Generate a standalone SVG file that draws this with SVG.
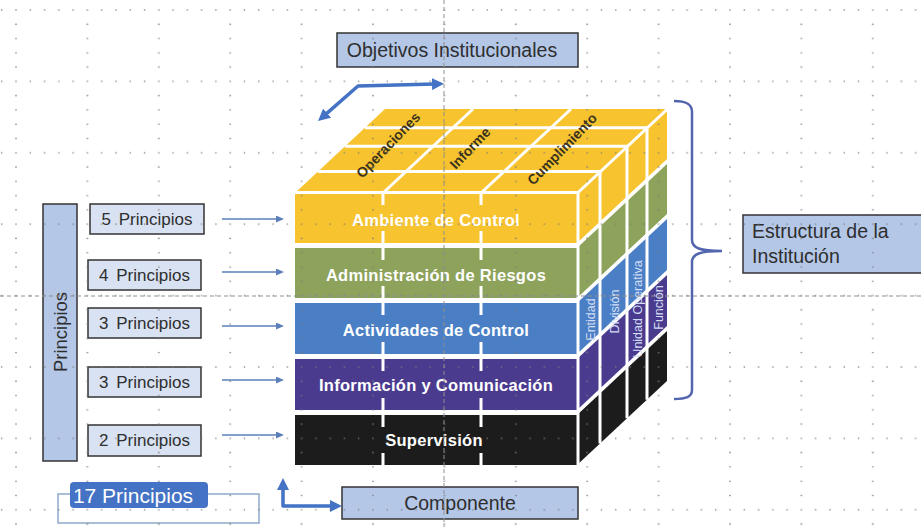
<svg xmlns="http://www.w3.org/2000/svg" width="921" height="527" viewBox="0 0 921 527">
<style>
.box{fill:#B4C7E7;stroke:#333;stroke-width:1.5}
.pbox{fill:#D9E2F3;stroke:#333;stroke-width:1.5}
.lbl{font-family:"Liberation Sans",Arial,sans-serif;fill:#2e2e2e}
.face{font-family:"Liberation Sans",Arial,sans-serif;font-weight:bold;fill:#ffffff;font-size:16.5px;letter-spacing:0.3px;text-anchor:middle}
.top{font-family:"Liberation Sans",Arial,sans-serif;font-weight:bold;fill:#3a3320;font-size:14px;text-anchor:middle}
.side{font-family:"Liberation Sans",Arial,sans-serif;fill:#d3def5;font-size:12.5px;text-anchor:middle}
.wl{stroke:#ffffff;stroke-width:3;fill:none}
.thin{stroke:#5B7FB8;stroke-width:1.6;fill:none;marker-end:url(#as)}
.thick{stroke:#4472C4;stroke-width:3.5;fill:none;stroke-linejoin:round;marker-start:url(#at);marker-end:url(#at)}
.y{fill:#F7C32E}.g{fill:#8DA25B}.b{fill:#4A7FC6}.p{fill:#4B3B8F}.k{fill:#1C1C1C}
.dash{stroke:#8f8f8f;stroke-width:1;stroke-dasharray:4 3}
</style>
<defs>
<marker id="as" markerUnits="userSpaceOnUse" markerWidth="8" markerHeight="7" refX="2" refY="3.5" orient="auto"><path d="M0,0 L8,3.5 L0,7 z" fill="#5B7FB8"/></marker>
<marker id="at" markerUnits="userSpaceOnUse" markerWidth="12" markerHeight="12" refX="3" refY="6" orient="auto-start-reverse"><path d="M0,0 L12,6 L0,12 z" fill="#4472C4"/></marker>
<pattern id="dots" x="14" y="8" width="71.4" height="71.4" patternUnits="userSpaceOnUse">
<g fill="#7a7a7a">
<circle cx="2" cy="2" r="0.8"/><circle cx="16.28" cy="2" r="0.8"/><circle cx="30.56" cy="2" r="0.8"/><circle cx="44.84" cy="2" r="0.8"/><circle cx="59.12" cy="2" r="0.8"/>
<circle cx="2" cy="16.28" r="0.8"/><circle cx="2" cy="30.56" r="0.8"/><circle cx="2" cy="44.84" r="0.8"/><circle cx="2" cy="59.12" r="0.8"/>
</g>
</pattern>
</defs>
<rect width="921" height="527" fill="#ffffff"/>

<g id="cube">
  <g id="cara-superior">
    <polygon class="y" points="295,193 577,193 667,109 385,109"/>
    <line class="wl" x1="318" y1="171.5" x2="600" y2="171.5"/>
    <line class="wl" x1="345" y1="146.3" x2="627" y2="146.3"/>
    <line class="wl" x1="365" y1="127.7" x2="647" y2="127.7"/>
    <line class="wl" x1="383" y1="193" x2="473" y2="109"/>
    <line class="wl" x1="481" y1="193" x2="571" y2="109"/>
    <text class="top" transform="translate(388,145) rotate(-46)" y="5">Operaciones</text>
    <text class="top" transform="translate(470,148) rotate(-46)" y="5">Informe</text>
    <text class="top" transform="translate(562,149) rotate(-46)" y="5">Cumplimiento</text>
  </g>
  <g id="ambiente">
    <rect class="y" x="295" y="193" width="282" height="50"/>
    <polygon class="y" points="577,193 667,109 667,159 577,243"/>
    <text class="face" x="436" y="226">Ambiente de Control</text>
  </g>
  <g id="riesgos">
    <rect class="g" x="295" y="248" width="282" height="50"/>
    <polygon class="g" points="577,248 667,164 667,214 577,298"/>
    <text class="face" x="436" y="281">Administración de Riesgos</text>
  </g>
  <g id="actividades">
    <rect class="b" x="295" y="303" width="282" height="51"/>
    <polygon class="b" points="577,303 667,219 667,270 577,354"/>
    <text class="face" x="436" y="336">Actividades de Control</text>
  </g>
  <g id="informacion">
    <rect class="p" x="295" y="359" width="282" height="51"/>
    <polygon class="p" points="577,359 667,275 667,326 577,410"/>
    <text class="face" x="436" y="391">Información y Comunicación</text>
  </g>
  <g id="supervision">
    <rect class="k" x="295" y="415" width="282" height="50"/>
    <polygon class="k" points="577,415 667,331 667,381 577,465"/>
    <text class="face" x="434" y="446">Supervisión</text>
  </g>
  <g id="lineas-cubo">
    <line class="wl" x1="295" y1="192.5" x2="578" y2="192.5"/>
    <line class="wl" x1="578" y1="192" x2="578" y2="465"/>
    <line class="wl" x1="577" y1="193.5" x2="668" y2="108.5"/>
    <line class="wl" x1="600" y1="171.5" x2="600" y2="443.5"/>
    <line class="wl" x1="627" y1="146.3" x2="627" y2="418.3"/>
    <line class="wl" x1="647" y1="127.7" x2="647" y2="399.7"/>
    <path class="wl" d="M383,193v12M481,193v12M383,231v12M481,231v12M383,248v12M481,248v12M383,286v12M481,286v12M383,303v12M481,303v12M383,342v12M481,342v12M383,359v12M481,359v12M383,398v12M481,398v12M383,415v12M481,415v12M383,453v12M481,453v12"/>
  </g>
  <g id="estructura-lados">
    <text class="side" transform="translate(590,319.5) rotate(-90)" y="4.5">Entidad</text>
    <text class="side" transform="translate(614,311.5) rotate(-90)" y="4.5">División</text>
    <text class="side" transform="translate(637,309) rotate(-90)" y="4.5">Unidad Operativa</text>
    <text class="side" transform="translate(658,307.5) rotate(-90)" y="4.5">Función</text>
  </g>
</g>

<g id="objetivos">
  <rect class="box" x="337" y="33" width="241" height="34"/>
  <text class="lbl" x="452" y="57" font-size="19.5" text-anchor="middle">Objetivos Institucionales</text>
</g>
<g id="componente">
  <rect class="box" x="342" y="487" width="236" height="32"/>
  <text class="lbl" x="460" y="510" font-size="19.5" text-anchor="middle">Componente</text>
</g>
<g id="estructura">
  <rect class="box" x="743" y="215" width="190" height="58"/>
  <text class="lbl" x="752" y="238" font-size="19.5">Estructura de la</text>
  <text class="lbl" x="752" y="263" font-size="19.5">Institución</text>
</g>
<g id="principios">
  <rect class="box" x="43" y="204" width="34" height="257"/>
  <text class="lbl" transform="translate(60,332) rotate(-90)" y="6.5" font-size="18.5" text-anchor="middle">Principios</text>
</g>
<g id="p-ambiente">
  <rect class="pbox" x="90" y="204" width="114" height="30"/>
  <text class="lbl" x="147" y="225" font-size="17" text-anchor="middle" word-spacing="3">5 Principios</text>
</g>
<g id="p-riesgos">
  <rect class="pbox" x="88" y="260" width="113" height="30"/>
  <text class="lbl" x="144.5" y="281" font-size="17" text-anchor="middle" word-spacing="3">4 Principios</text>
</g>
<g id="p-actividades">
  <rect class="pbox" x="88" y="308" width="113" height="30"/>
  <text class="lbl" x="144.5" y="329" font-size="17" text-anchor="middle" word-spacing="3">3 Principios</text>
</g>
<g id="p-informacion">
  <rect class="pbox" x="88" y="367" width="113" height="30"/>
  <text class="lbl" x="144.5" y="388" font-size="17" text-anchor="middle" word-spacing="3">3 Principios</text>
</g>
<g id="p-supervision">
  <rect class="pbox" x="88" y="425" width="113" height="31"/>
  <text class="lbl" x="144.5" y="446" font-size="17" text-anchor="middle" word-spacing="3">2 Principios</text>
</g>
<g id="total">
  <rect x="58" y="494" width="201" height="29" fill="none" stroke="#8EA9CC" stroke-width="1.5"/>
  <rect x="70" y="482" width="138" height="26" rx="4" fill="#4472C4"/>
  <text x="133" y="502.5" font-family="Liberation Sans, Arial, sans-serif" font-size="21" fill="#ffffff" text-anchor="middle">17 Principios</text>
</g>

<g id="conectores">
  <line class="thin" x1="222" y1="219" x2="278" y2="219"/>
  <line class="thin" x1="222" y1="272" x2="278" y2="272"/>
  <line class="thin" x1="222" y1="326" x2="278" y2="326"/>
  <line class="thin" x1="222" y1="380" x2="278" y2="380"/>
  <line class="thin" x1="222" y1="435" x2="278" y2="435"/>
  <path class="thick" d="M324.8,115.1 L358,86 L435,84"/>
  <path class="thick" d="M283,487 L283,506 L333,506"/>
  <path d="M674,101 C686,101 692,104 692,112 L692,240 C692,248 700,251 722,251 C700,251 692,254 692,262 L692,390 C692,397 686,399 674,399" fill="none" stroke="#5265AE" stroke-width="2.5"/>
</g>

<g id="cuadricula">
  <rect width="921" height="527" fill="url(#dots)"/>
  <line class="dash" x1="444" y1="0" x2="444" y2="527"/>
  <line class="dash" x1="0" y1="296" x2="921" y2="296"/>
</g>
</svg>
